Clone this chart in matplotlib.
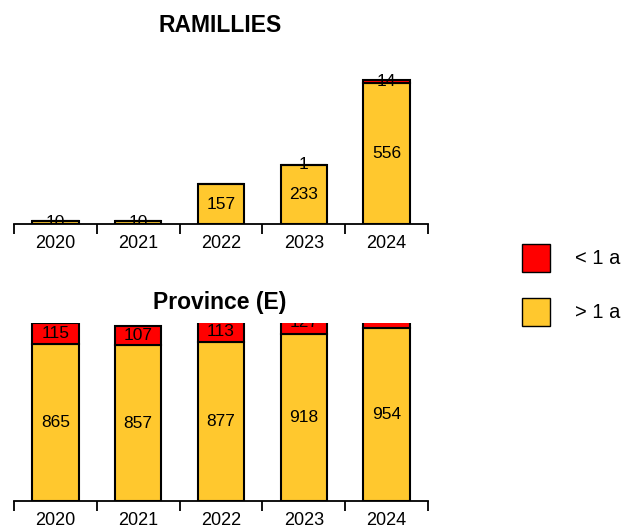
import matplotlib
matplotlib.use('Agg')
import matplotlib.pyplot as plt
from matplotlib.patches import Rectangle

plt.rcParams['font.family'] = ['Liberation Sans', 'DejaVu Sans']

years = ['2020', '2021', '2022', '2023', '2024']

# RAMILLIES
ram_old = [10, 10, 157, 233, 556]   # > 1 a
ram_new = [0, 0, 0, 1, 14]          # < 1 a

# Province (E)
prov_old = [865, 857, 877, 918, 954]
prov_new = [115, 107, 113, 127, 140]

YELLOW = '#FFC82E'
RED = '#FF0000'

fig = plt.figure(figsize=(6.3, 5.3), dpi=100)

ax1 = fig.add_axes([14/630, 1-224/530, 414/630, 164/530])
ax2 = fig.add_axes([14/630, 1-501/530, 414/630, 178/530])


def draw_panel(ax, old, new, ymax, title, title_y):
    x = range(len(years))
    ax.bar(x, old, width=0.56, color=YELLOW, edgecolor='black', linewidth=1.5)
    ax.bar(x, new, width=0.56, bottom=old, color=RED, edgecolor='black', linewidth=1.5)
    for i in x:
        if old[i] > 0:
            ax.text(i, old[i]/2, str(old[i]), ha='center', va='center', fontsize=12.5, clip_on=True)
        if new[i] > 0:
            ax.text(i, old[i] + new[i]/2, str(new[i]), ha='center', va='center', fontsize=12.5, clip_on=True)
    ax.set_xlim(-0.5, len(years) - 0.5)
    ax.set_ylim(0, ymax)
    for s in ['top', 'right', 'left']:
        ax.spines[s].set_visible(False)
    ax.spines['bottom'].set_linewidth(1.3)
    ax.set_yticks([])
    ax.set_xticks([i - 0.5 for i in range(len(years) + 1)])
    ax.set_xticklabels([])
    ax.tick_params(axis='x', which='major', direction='out', length=7, width=1.3)
    ax.set_xticks(list(x), minor=True)
    ax.set_xticklabels(years, minor=True, fontsize=13)
    ax.tick_params(axis='x', which='minor', length=0, pad=8)
    fig.text(220/630, title_y, title, ha='center', va='center', fontsize=16.5, fontweight='bold')


draw_panel(ax1, ram_old, ram_new, 648, 'RAMILLIES', 1-25/530)
draw_panel(ax2, prov_old, prov_new, 980, 'Province (E)', 1-302/530)

# legend
for col, lab, yc in [(RED, '< 1 a', 258), (YELLOW, '> 1 a', 312)]:
    fig.patches.append(Rectangle((522/630, 1-(yc+14)/530), 28/630, 28/530,
                                 transform=fig.transFigure, facecolor=col,
                                 edgecolor='black', linewidth=1))
    fig.text(575/630, 1-yc/530, lab, ha='left', va='center', fontsize=14.5)

fig.savefig('out.png', dpi=100)
